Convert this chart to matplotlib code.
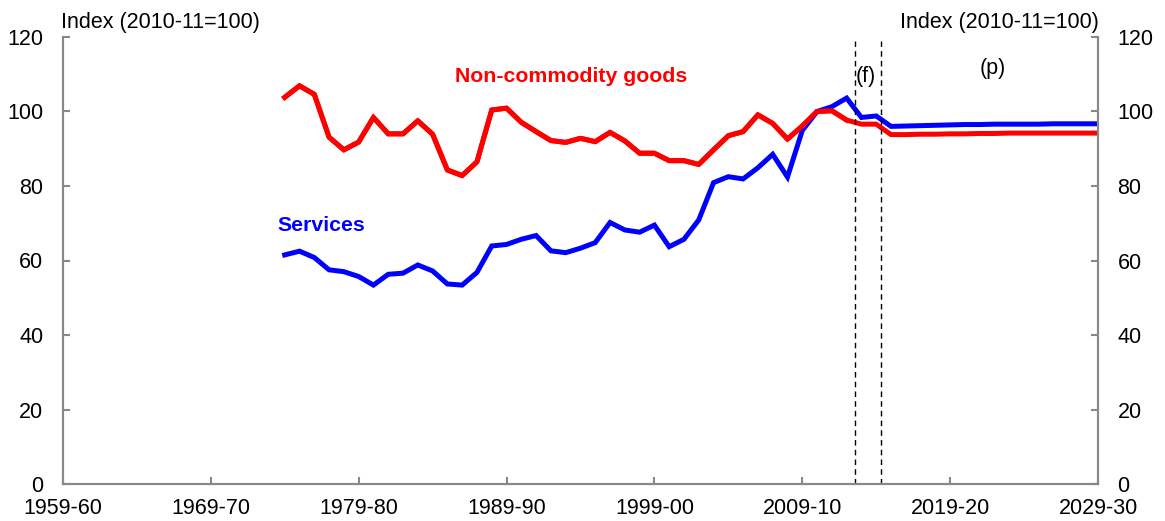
import numpy as np
import matplotlib
matplotlib.use("Agg")
import matplotlib.pyplot as plt

plt.rcParams['font.family'] = ['Liberation Sans', 'DejaVu Sans']

# financial year start (1974 -> 1974-75)
years = list(range(1974, 2030))

non_commodity = [103.8, 106.9, 104.6, 93.1, 89.7, 91.8, 98.4, 94.0, 94.0, 97.5,
                 93.9, 84.3, 82.8, 86.5, 100.4, 100.9, 97.1, 94.6, 92.2, 91.7,
                 92.8, 91.9, 94.4, 92.1, 88.8, 88.8, 86.8, 86.8, 85.8, 89.7,
                 93.5, 94.6, 99.1, 96.8, 92.6, 96.1, 100.0, 100.2, 97.7, 96.6,
                 96.6, 93.8, 93.8, 93.9, 93.9, 94.0, 94.0, 94.1, 94.1, 94.2,
                 94.2, 94.2, 94.2, 94.2, 94.2, 94.2]
services = [61.5, 62.5, 60.8, 57.5, 57.0, 55.7, 53.4, 56.3, 56.6, 58.8,
            57.2, 53.7, 53.4, 56.8, 63.9, 64.3, 65.7, 66.7, 62.6, 62.1,
            63.3, 64.8, 70.2, 68.2, 67.6, 69.5, 63.7, 65.7, 70.9, 80.9,
            82.5, 81.9, 84.9, 88.5, 82.4, 94.9, 100.0, 101.3, 103.6, 98.4,
            98.8, 96.0, 96.1, 96.2, 96.3, 96.4, 96.5, 96.5, 96.6, 96.6,
            96.6, 96.6, 96.7, 96.7, 96.7, 96.7]

forecast_start = 2012.55
projection_start = 2014.35
xtick_years = list(range(1959, 2030, 10))
xtick_labels = ["%d-%02d" % (y, (y + 1) % 100) for y in xtick_years]
yticks = list(range(0, 121, 20))

fig = plt.figure(figsize=(11.65, 5.21), dpi=100)
ax = fig.add_axes([0.054, 0.071, 0.8885, 0.858])

ax.plot(years, non_commodity, color='#ff0000', lw=3.6, solid_joinstyle='miter')
ax.plot(years, services, color='#0000ff', lw=3.6, solid_joinstyle='miter')
ax.plot(years[:39], non_commodity[:39], color='#ff0000', lw=3.6, zorder=3)

ax.plot([forecast_start, forecast_start], [0, 119], color='black', lw=1, ls=(0, (4, 3)))
ax.plot([projection_start, projection_start], [0, 119], color='black', lw=1, ls=(0, (4, 3)))

ax.set_xlim(1959, 2029)
ax.set_ylim(0, 120)
ax.set_xticks(xtick_years)
ax.set_xticklabels(xtick_labels)
ax.set_yticks(yticks)

ax2 = ax.twinx()
ax2.set_ylim(0, 120)
ax2.set_yticks(yticks)

for a in (ax, ax2):
    a.spines['top'].set_visible(False)
    for s in ('left', 'right', 'bottom'):
        a.spines[s].set_color('#888888')
        a.spines[s].set_linewidth(1.5)
    a.tick_params(direction='in', color='#888888', width=1.5, length=5,
                  labelsize=15.5, pad=14, labelcolor='black')
ax.tick_params(axis='x', pad=10)

fig.text(0.052, 0.957, "Index (2010-11=100)", fontsize=15.5, ha='left', va='center')
fig.text(0.943, 0.957, "Index (2010-11=100)", fontsize=15.5, ha='right', va='center')

ax.text(1993.35, 109.5, "Non-commodity goods", color='#ff0000', fontsize=15.3,
        fontweight='bold', ha='center', va='center')
ax.text(1976.45, 69.5, "Services", color='#0000ff', fontsize=15.3,
        fontweight='bold', ha='center', va='center')
ax.text(2013.3, 109.5, "(f)", fontsize=15.5, ha='center', va='center')
ax.text(2021.9, 111.5, "(p)", fontsize=15.5, ha='center', va='center')

fig.savefig("out.png", dpi=100)
